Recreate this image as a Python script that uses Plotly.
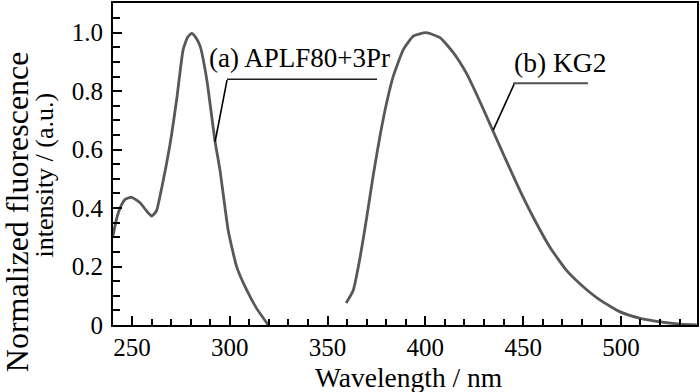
import plotly.graph_objects as go

# Curve (a) APLF80+3Pr
wl_a = [240.3, 242.0, 243.9, 246.5, 249.8, 254.1, 257.5, 260.1, 262.5, 265.2, 269.4, 272.9, 276.2,
        278.5, 280.5, 282.5, 284.8, 288.2, 292.5, 295.0, 297.2, 299.3, 303.6, 308.7, 313.8, 319.7]
int_a = [0.305, 0.36, 0.40, 0.43, 0.437, 0.418, 0.39, 0.373, 0.39, 0.469, 0.616, 0.774, 0.943,
         0.985, 0.998, 0.985, 0.955, 0.842, 0.627, 0.530, 0.42, 0.32, 0.198, 0.119, 0.056, 0.0]

# Curve (b) KG2
wl_b = [359.5, 363.2, 366.6, 370.0, 373.4, 376.9, 380.3, 383.7, 388.8, 394.0, 400.4, 407.5,
        414.3, 421.2, 428.0, 434.8, 441.6, 448.5, 455.3, 463.8, 472.3, 480.9, 489.4, 499.6,
        509.9, 520.1, 530.3, 538.8]
int_b = [0.075, 0.12, 0.23, 0.367, 0.514, 0.65, 0.763, 0.853, 0.943, 0.989, 1.0, 0.983,
         0.932, 0.859, 0.763, 0.661, 0.559, 0.458, 0.367, 0.265, 0.186, 0.130, 0.085, 0.045,
         0.023, 0.011, 0.003, 0.0]

x_ticks = [250, 300, 350, 400, 450, 500]
y_ticks = [0, 0.2, 0.4, 0.6, 0.8, 1.0]
y_tick_text = ["0", "0.2", "0.4", "0.6", "0.8", "1.0"]

FONT = "Liberation Serif"
CURVE = "rgb(88,88,88)"

fig = go.Figure()
fig.add_trace(go.Scatter(x=wl_a, y=int_a, mode="lines",
                         line=dict(color=CURVE, width=2.8, shape="spline", smoothing=0.5)))
fig.add_trace(go.Scatter(x=wl_b, y=int_b, mode="lines",
                         line=dict(color=CURVE, width=2.8, shape="spline", smoothing=0.5)))

fig.update_layout(
    width=700, height=392,
    margin=dict(l=113, r=3, t=1, b=67),
    paper_bgcolor="white", plot_bgcolor="white",
    showlegend=False,
    font=dict(family=FONT, color="black"),
)
fig.update_xaxes(
    range=[240.3, 538.9], tickvals=x_ticks, ticks="inside", ticklen=9, tickwidth=2,
    tickcolor="black", showline=True, linecolor="black", linewidth=2, mirror=True,
    showgrid=False, zeroline=False, tickfont=dict(family=FONT, size=25, color="black"),
    ticklabelstandoff=-1,
    minor=dict(dtick=10, ticks="inside", ticklen=6, tickwidth=2, tickcolor="black", showgrid=False),
)
fig.update_yaxes(
    range=[0, 1.1017], tickvals=y_ticks, ticktext=y_tick_text, ticks="inside", ticklen=9,
    tickwidth=2, tickcolor="black", showline=True, linecolor="black", linewidth=2, mirror=True,
    showgrid=False, zeroline=False, tickfont=dict(family=FONT, size=25, color="black"),
    ticklabelstandoff=3,
    minor=dict(dtick=0.05, ticks="inside", ticklen=7, tickwidth=2, tickcolor="black", showgrid=False),
)

# Axis titles
fig.add_annotation(text="Wavelength / nm", xref="paper", yref="paper", x=(408.5 - 113) / 584, y=0,
                   yshift=-52, xanchor="center", yanchor="middle", showarrow=False,
                   font=dict(family=FONT, size=27.5, color="black"))
fig.add_annotation(text="Normalized fluorescence", xref="paper", yref="paper", x=0, xshift=-96.5,
                   y=(325 - 211) / 324, xanchor="center", yanchor="middle", textangle=-90,
                   showarrow=False, font=dict(family=FONT, size=32, color="black"))
fig.add_annotation(text="intensity / (a.u.)", xref="paper", yref="paper", x=0, xshift=-69,
                   y=(325 - 174.5) / 324, xanchor="center", yanchor="middle", textangle=-90,
                   showarrow=False, font=dict(family=FONT, size=26, color="black"))

# Curve labels
fig.add_annotation(text="(a) APLF80+3Pr", xref="paper", yref="paper", x=(207 - 113) / 584,
                   y=(325 - 56) / 324, xanchor="left", yanchor="middle", showarrow=False,
                   font=dict(family=FONT, size=27, color="black"))
fig.add_annotation(text="(b) KG2", xref="paper", yref="paper", x=(512 - 113) / 584,
                   y=(325 - 61) / 324, xanchor="left", yanchor="middle", showarrow=False,
                   font=dict(family=FONT, size=27.5, color="black"))

# Underlines and leader lines
fig.add_shape(type="line", xref="x", yref="y", x0=298.6, y0=0.841, x1=375.3, y1=0.841,
              line=dict(color="rgb(30,30,30)", width=1.6))
fig.add_shape(type="line", xref="x", yref="y", x0=298.6, y0=0.838, x1=292.5, y1=0.627,
              line=dict(color="black", width=1.6))
fig.add_shape(type="line", xref="x", yref="y", x0=444.9, y0=0.827, x1=483.2, y1=0.827,
              line=dict(color="rgb(80,80,80)", width=2))
fig.add_shape(type="line", xref="x", yref="y", x0=445.4, y0=0.824, x1=434.7, y1=0.667,
              line=dict(color="black", width=1.6))

fig.write_html("out.html", config={"displayModeBar": False},
               post_script="document.body.style.margin='0px';")
